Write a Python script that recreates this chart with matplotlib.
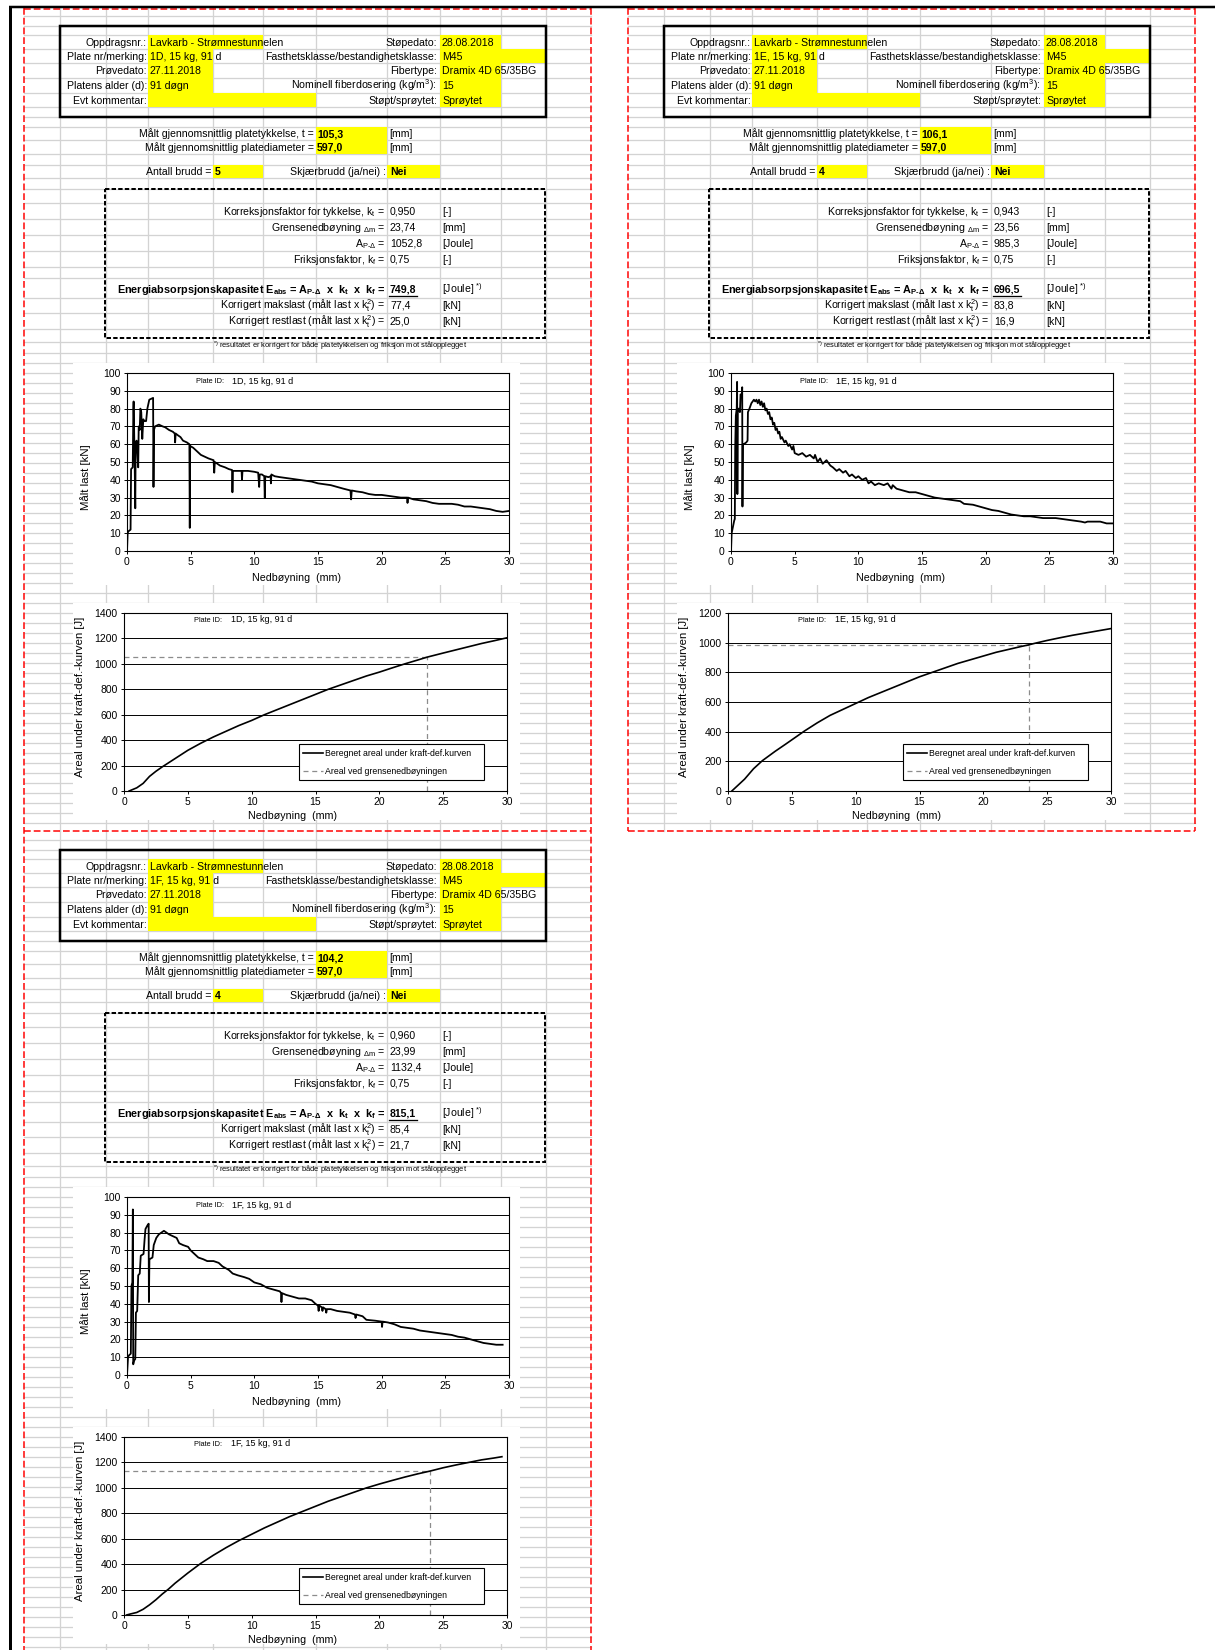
import matplotlib
matplotlib.use('Agg')
import matplotlib.pyplot as plt
from matplotlib.patches import Rectangle

plt.rcParams['font.family'] = ['Liberation Sans', 'DejaVu Sans']
plt.rcParams['mathtext.fontset'] = 'custom'
plt.rcParams['mathtext.rm'] = 'Liberation Sans'
plt.rcParams['mathtext.it'] = 'Liberation Sans:italic'
plt.rcParams['mathtext.bf'] = 'Liberation Sans:bold'
plt.rcParams['mathtext.default'] = 'regular'

# ---- data read from the sheet ----
plate_ids = ['1D, 15 kg, 91 d', '1E, 15 kg, 91 d', '1F, 15 kg, 91 d']
thickness = ['105,3', '106,1', '104,2']
diameter = ['597,0', '597,0', '597,0']
antall_brudd = ['5', '4', '4']
skjaerbrudd = ['Nei', 'Nei', 'Nei']
kt_values = ['0,950', '0,943', '0,960']
delta_m = [23.74, 23.56, 23.99]
area_pd = [1052.8, 985.3, 1132.4]
kf_values = ['0,75', '0,75', '0,75']
eabs = ['749,8', '696,5', '815,1']
makslast = ['77,4', '83,8', '85,4']
restlast = ['25,0', '16,9', '21,7']
energy_ymax = [1400, 1200, 1400]

hdr_left_labels = ['Oppdragsnr.:', 'Plate nr/merking:', 'Prøvedato:', 'Platens alder (d):', 'Evt kommentar:']
hdr_right_labels = ['Støpedato:', 'Fasthetsklasse/bestandighetsklasse:', 'Fibertype:',
                    'Nominell fiberdosering (kg/m$^{3}$):', 'Støpt/sprøytet:']
hdr_right_values = ['28.08.2018', 'M45', 'Dramix 4D 65/35BG', '15', 'Sprøytet']
oppdrag = 'Lavkarb - Strømnestunnelen'
provedato = '27.11.2018'
alder = '91 døgn'

load_1d = [(0, 0), (0.05, 10), (0.1, 11), (0.28, 12), (0.32, 46), (0.45, 47), (0.5, 80), (0.52, 84),
           (0.55, 72), (0.6, 50), (0.65, 24), (0.68, 60), (0.75, 62), (0.82, 55), (0.88, 47), (0.92, 70),
           (1.0, 68), (1.05, 80), (1.12, 78), (1.2, 63), (1.28, 74), (1.35, 73), (1.5, 73), (1.6, 80),
           (1.75, 85), (2.05, 86), (2.08, 36), (2.12, 68), (2.2, 70), (2.5, 71), (2.8, 70), (3.0, 69.5),
           (3.3, 68), (3.6, 67), (3.75, 66), (3.78, 61), (3.82, 66), (4.0, 65), (4.2, 64), (4.4, 62),
           (4.7, 61), (4.9, 60), (4.93, 13), (4.96, 59), (5.2, 58), (5.5, 56), (5.8, 54), (6.1, 53),
           (6.4, 52), (6.8, 51), (6.85, 44), (6.9, 50), (7.3, 48), (7.7, 47), (8.0, 46), (8.25, 45.5),
           (8.28, 33), (8.32, 45), (8.7, 45), (9.0, 45), (9.03, 40), (9.07, 45), (9.5, 45), (10.0, 44.5),
           (10.3, 44), (10.38, 36), (10.42, 43), (10.6, 43), (10.78, 42), (10.82, 30), (10.86, 42),
           (11.1, 41.5), (11.28, 42), (11.3, 38), (11.34, 43), (11.6, 42), (12.0, 41.5), (12.5, 41),
           (13.0, 40.5), (13.5, 40), (14.0, 39.5), (14.5, 39), (15.0, 38), (15.5, 37.5), (16.0, 37),
           (16.5, 36), (17.0, 35), (17.55, 34), (17.6, 29), (17.65, 34), (18.0, 33.5), (18.5, 33),
           (19.0, 32), (19.5, 31.5), (20.0, 31.5), (20.5, 31), (21.0, 30.5), (21.5, 30), (22.0, 30),
           (22.03, 27), (22.07, 30), (22.5, 29), (23.0, 28.5), (23.5, 28), (24.0, 27), (24.5, 26.5),
           (25.0, 26.5), (25.5, 26.5), (26.0, 26), (26.5, 25), (27.0, 25), (27.5, 24.5), (28.0, 24),
           (28.5, 23.5), (29.0, 22.5), (29.5, 22), (30.0, 22.5)]

load_1e = [(0, 0), (0.05, 10), (0.25, 17), (0.3, 18), (0.33, 58), (0.38, 76), (0.45, 80), (0.48, 95),
           (0.5, 32), (0.53, 78), (0.6, 80), (0.7, 78), (0.75, 88), (0.85, 88), (0.88, 92), (0.9, 25),
           (0.93, 60), (1.0, 60), (1.2, 61), (1.3, 62), (1.33, 78), (1.45, 80), (1.6, 83), (1.8, 85),
           (1.9, 84), (2.0, 85), (2.1, 83), (2.2, 85), (2.3, 82), (2.4, 84), (2.5, 81), (2.6, 83),
           (2.7, 79), (2.8, 80), (2.9, 77), (3.0, 78), (3.1, 74), (3.2, 75), (3.3, 71), (3.4, 72),
           (3.5, 68), (3.6, 69), (3.7, 66), (3.8, 67), (3.9, 63), (4.0, 64), (4.2, 61), (4.3, 62),
           (4.5, 59), (4.6, 60), (4.8, 57), (4.9, 59), (5.0, 55), (5.3, 54), (5.6, 55), (5.9, 53),
           (6.2, 54), (6.5, 52), (6.6, 54), (6.8, 50), (7.0, 52), (7.2, 49), (7.5, 51), (7.8, 48),
           (8.0, 47), (8.3, 45), (8.5, 46), (8.8, 44), (9.0, 45), (9.3, 42), (9.5, 43), (9.8, 41),
           (10.0, 42), (10.3, 40), (10.6, 41), (10.8, 38), (11.0, 39), (11.3, 37), (11.6, 38),
           (12.0, 37), (12.3, 38), (12.6, 35), (12.7, 37), (13.0, 35), (13.5, 34), (14.0, 33),
           (14.5, 33), (15.0, 32), (15.5, 31), (16.0, 30), (16.5, 29.5), (17.0, 29), (17.5, 28.5),
           (18.0, 28), (18.3, 26.5), (19.0, 26), (19.5, 25), (20.0, 24), (20.5, 23), (21.0, 22.5),
           (21.5, 21.5), (22.0, 20.5), (22.5, 20), (23.0, 19.5), (23.5, 19.5), (24.0, 19), (24.5, 18.5),
           (25.0, 18.5), (25.5, 18.5), (26.0, 18), (26.5, 17.5), (27.0, 17), (27.5, 16.5), (27.8, 16),
           (28.0, 16.5), (28.5, 16.5), (29.0, 16.5), (29.5, 15.5), (30.0, 15.5)]

load_1f = [(0, 0), (0.08, 10), (0.15, 11), (0.3, 12), (0.35, 50), (0.42, 52), (0.46, 93), (0.49, 6),
           (0.55, 8), (0.65, 9), (0.7, 35), (0.8, 36), (0.88, 56), (1.0, 57), (1.08, 67), (1.3, 68),
           (1.38, 76), (1.45, 82), (1.6, 84), (1.7, 85), (1.72, 41), (1.76, 65), (2.0, 66), (2.1, 73),
           (2.3, 77), (2.5, 79), (2.7, 80), (2.9, 81), (3.1, 80), (3.3, 79), (3.6, 78), (3.9, 77),
           (4.1, 74), (4.4, 73), (4.8, 72), (5.0, 70), (5.3, 68), (5.6, 66), (6.0, 65), (6.3, 64),
           (6.8, 64), (7.2, 63), (7.5, 61), (8.0, 59), (8.3, 57), (8.7, 56), (9.2, 55), (9.6, 54),
           (10.0, 52), (10.5, 51), (11.0, 49), (11.5, 48), (12.0, 47), (12.1, 46), (12.13, 41),
           (12.17, 46), (12.5, 45), (13.0, 44), (13.5, 43), (14.0, 43), (14.5, 42), (14.8, 40),
           (15.0, 39), (15.05, 36), (15.1, 39), (15.3, 38), (15.35, 36), (15.4, 38), (15.6, 37),
           (15.65, 35), (15.7, 37), (16.0, 37), (16.5, 36), (17.0, 35.5), (17.5, 35), (17.9, 34),
           (17.95, 32), (18.0, 34), (18.5, 33), (18.8, 31), (19.5, 30.5), (20.0, 30), (20.03, 27),
           (20.07, 30), (20.5, 29.5), (21.0, 28.5), (21.5, 27), (22.0, 26.5), (22.5, 26), (23.0, 25),
           (23.5, 24.5), (24.0, 24), (24.5, 23.5), (25.0, 23), (25.5, 22.5), (26.0, 21.5), (26.5, 21),
           (27.0, 20), (27.5, 19), (28.0, 18), (28.5, 17.5), (29.0, 17), (29.5, 17)]

energy_1d = [(0.4, 0), (1, 25), (1.5, 60), (2, 115), (2.5, 155), (3, 190), (4, 255), (5, 320), (6, 375),
             (7, 425), (8, 470), (9, 515), (10, 555), (11, 600), (12, 640), (13, 680), (14, 720),
             (15, 760), (16, 800), (17, 835), (18, 870), (19, 905), (20, 935), (21, 968), (22, 1000),
             (23, 1030), (23.74, 1052.8), (25, 1085), (26, 1110), (27, 1135), (28, 1160), (29, 1182),
             (30, 1205)]
energy_1e = [(0.3, 0), (0.8, 40), (1.3, 80), (2, 150), (2.7, 205), (3.7, 268), (4.5, 315), (5, 345),
             (6, 405), (7, 460), (8, 510), (9, 550), (10, 590), (11, 630), (12, 665), (13, 700),
             (14, 735), (15, 770), (16, 800), (17, 830), (18, 860), (19, 885), (20, 910), (21, 935),
             (22, 955), (23, 975), (23.56, 985.3), (24, 995), (25, 1015), (26, 1033), (27, 1050),
             (28, 1065), (29, 1080), (30, 1095)]
energy_1f = [(0.2, 0), (0.5, 8), (1, 20), (1.5, 45), (2, 80), (2.5, 120), (3, 165), (3.5, 205),
             (4, 250), (5, 330), (6, 405), (7, 470), (8, 530), (9, 585), (10, 635), (11, 685),
             (12, 730), (13, 775), (14, 815), (15, 855), (16, 895), (17, 930), (18, 965), (19, 1000),
             (20, 1030), (21, 1058), (22, 1085), (23, 1110), (23.99, 1132.4), (25, 1158), (26, 1180),
             (27, 1200), (28, 1220), (29, 1235), (29.6, 1245)]

loads = [load_1d, load_1e, load_1f]
energies = [energy_1d, energy_1e, energy_1f]

# ---- page layout (pixels, relative to a page) ----
W, H = 1215, 1650
FS = 7.6
GRID_C = '#d3d3d3'
GRID_COLS = [60, 106, 148, 213, 263, 316, 387, 440, 501, 546]
GRID_ROWS = [16, 26, 35, 49, 63, 78, 93, 107, 117, 127, 140, 154, 165, 178, 189, 203, 219, 235,
             251, 267, 278, 298, 313, 329, 342, 353] + list(range(363, 831, 10))
YELLOW = [(148, 263, 35, 49), (148, 213, 49, 63), (148, 213, 63, 78), (148, 213, 78, 93),
          (148, 316, 93, 107), (440, 501, 35, 49), (440, 546, 49, 63), (440, 501, 63, 78),
          (440, 501, 78, 93), (440, 501, 93, 107), (316, 387, 127, 154), (213, 263, 165, 178),
          (387, 440, 165, 178)]
PAGES = [(0, 0), (604, 0), (0, 824)]

fig = plt.figure(figsize=(12.15, 16.5), dpi=100)
bg = fig.add_axes([0, 0, 1, 1])
bg.set_xlim(0, W)
bg.set_ylim(H, 0)
bg.axis('off')


def px(v):
    return v * 0.72


def axrect(L, T, R, B):
    return [L / W, 1 - B / H, (R - L) / W, (B - T) / H]


def txt(x, y, s, fs=FS, **kw):
    # y is the visual centre of the row; place by baseline
    bg.text(x, y + 0.36 * fs * 100 / 72, s, fontsize=fs, va='baseline', zorder=6, **kw)


def style_axes(ax):
    ax.set_facecolor('white')
    ax.grid(axis='y', color='black', lw=0.7)
    ax.set_axisbelow(True)
    for s in ax.spines.values():
        s.set_linewidth(0.8)
    ax.tick_params(labelsize=7.5, length=2.5, width=0.7, pad=2, direction='out')


def plate_label(ax, x_lab, x_val, y, i):
    ax.text(x_lab, y + 2, 'Plate ID:', fontsize=5.3, va='baseline', ha='left',
            transform=bg.transData, zorder=5)
    ax.text(x_val, y + 2.5, plate_ids[i], fontsize=6.5, va='baseline', ha='left',
            transform=bg.transData, zorder=5)


def draw_page(i, ox, oy):
    top, bottom = oy + 7, min(oy + 831, H)
    for r in GRID_ROWS:
        if oy + r > H:
            break
        bg.plot([ox + 24, ox + 591], [oy + r, oy + r], color=GRID_C, lw=px(1.3), zorder=1)
    for c in GRID_COLS:
        bg.plot([ox + c, ox + c], [top, bottom], color=GRID_C, lw=px(1.3), zorder=1)
    for x0, x1, y0, y1 in YELLOW:
        bg.add_patch(Rectangle((ox + x0, oy + y0), x1 - x0, y1 - y0, fc='#ffff00', ec='none', zorder=2))

    # boxes
    bg.add_patch(Rectangle((ox + 60, oy + 26), 486, 91, fill=False, ec='black', lw=px(2.5), zorder=5))
    bg.add_patch(Rectangle((ox + 105, oy + 189), 440, 149, fill=False, ec='black', lw=px(2.0),
                           ls=(0, (2.2, 1.1)), zorder=5))

    # header
    rows = [42, 56, 70.5, 85.5, 100]
    left_vals = [oppdrag, plate_ids[i], provedato, alder, '']
    for y, lab, val, rlab, rval in zip(rows, hdr_left_labels, left_vals, hdr_right_labels, hdr_right_values):
        txt(ox + 147, oy + y, lab, ha='right')
        txt(ox + 150, oy + y, val, ha='left')
        txt(ox + 437, oy + y, rlab, ha='right')
        txt(ox + 442, oy + y, rval, ha='left')

    txt(ox + 314, oy + 133.5, 'Målt gjennomsnittlig platetykkelse, t =', ha='right')
    txt(ox + 317, oy + 133.5, thickness[i], ha='left', fontweight='bold')
    txt(ox + 389, oy + 133.5, '[mm]', ha='left')
    txt(ox + 314, oy + 147, 'Målt gjennomsnittlig platediameter =', ha='right')
    txt(ox + 317, oy + 147, diameter[i], ha='left', fontweight='bold')
    txt(ox + 389, oy + 147, '[mm]', ha='left')
    txt(ox + 211, oy + 171.5, 'Antall brudd =', ha='right')
    txt(ox + 215, oy + 171.5, antall_brudd[i], ha='left', fontweight='bold')
    txt(ox + 386, oy + 171.5, 'Skjærbrudd (ja/nei) :', ha='right')
    txt(ox + 390, oy + 171.5, skjaerbrudd[i], ha='left', fontweight='bold')

    # results block
    res = [(211, 'Korreksjonsfaktor for tykkelse, k$_{t}$ =', kt_values[i], '[-]'),
           (227, 'Grensenedbøyning $_{\u0394m}$ =', f'{delta_m[i]:.2f}'.replace('.', ','), '[mm]'),
           (243, 'A$_{P\u2010\u0394}$ =', f'{area_pd[i]:.1f}'.replace('.', ','), '[Joule]'),
           (259, 'Friksjonsfaktor, k$_{f}$ =', kf_values[i], '[-]'),
           (305, 'Korrigert makslast (målt last x k$_{t}^{2}$) =', makslast[i], '[kN]'),
           (321, 'Korrigert restlast (målt last x k$_{t}^{2}$) =', restlast[i], '[kN]')]
    for y, lab, val, unit in res:
        txt(ox + 385, oy + y, lab, ha='right')
        txt(ox + 390, oy + y, val, ha='left')
        txt(ox + 442, oy + y, unit, ha='left')
    txt(ox + 385, oy + 289, 'Energiabsorpsjonskapasitet E$_{abs}$ = A$_{P\u2010\u0394}$  x  k$_{t}$  x  k$_{f}$ =',
        fs=7.8, ha='right', fontweight='bold')
    txt(ox + 390, oy + 289, eabs[i], ha='left', fontweight='bold')
    bg.plot([ox + 389, ox + 417], [oy + 295.5, oy + 295.5], color='black', lw=px(1.3), zorder=6)
    txt(ox + 442, oy + 289, '[Joule] $^{*)}$', ha='left')
    txt(ox + 213, oy + 346, '$^{*)}$ resultatet er korrigert for både platetykkelsen og friksjon mot stålopplegget',
        fs=5.4, ha='left')

    # chart backgrounds
    bg.add_patch(Rectangle((ox + 73, oy + 363), 447, 222, fc='white', ec='none', zorder=3))
    bg.add_patch(Rectangle((ox + 73, oy + 603), 447, 217, fc='white', ec='none', zorder=3))

    # load chart
    ax = fig.add_axes(axrect(ox + 127, oy + 373, ox + 509, oy + 551))
    ax.set_zorder(2)
    xs, ys = zip(*loads[i])
    ax.plot(xs, ys, color='black', lw=1.3, zorder=3)
    ax.set_xlim(0, 30)
    ax.set_ylim(0, 100)
    ax.set_xticks(range(0, 31, 5))
    ax.set_yticks(range(0, 101, 10))
    style_axes(ax)
    txt(ox + 297, oy + 577, 'Nedbøyning  (mm)', fs=7.7, ha='center')
    bg.text(ox + 86, oy + 477, 'Målt last [kN]', fontsize=8.2, rotation=90, ha='center', va='center', zorder=6)
    plate_label(ax, ox + 196, ox + 232, oy + 381, i)

    # energy chart
    ax2 = fig.add_axes(axrect(ox + 124, oy + 613, ox + 507, oy + 791))
    ax2.set_zorder(2)
    ex, ey = zip(*energies[i])
    ax2.plot(ex, ey, color='black', lw=1.2, zorder=3, label='Beregnet areal under kraft-def.kurven')
    ax2.plot([0, delta_m[i]], [area_pd[i], area_pd[i]], color='#8c8c8c', lw=0.9, ls=(0, (4, 3)),
             zorder=2, label='Areal ved grensenedbøyningen')
    ax2.plot([delta_m[i], delta_m[i]], [0, area_pd[i]], color='#8c8c8c', lw=0.9, ls=(0, (4, 3)), zorder=2)
    ax2.set_xlim(0, 30)
    ax2.set_ylim(0, energy_ymax[i])
    ax2.set_xticks(range(0, 31, 5))
    ax2.set_yticks(range(0, energy_ymax[i] + 1, 200))
    style_axes(ax2)
    leg = ax2.legend(loc='lower left', bbox_to_anchor=(0.457, 0.062, 0.483, 0.208), mode='expand',
                     fontsize=6.3, frameon=True, fancybox=False, edgecolor='black', framealpha=1,
                     handlelength=2.2, handletextpad=0.3, labelspacing=1.0, borderpad=0.5,
                     borderaxespad=0)
    leg.get_frame().set_linewidth(0.8)
    txt(ox + 293, oy + 815, 'Nedbøyning  (mm)', fs=7.7, ha='center')
    bg.text(ox + 80, oy + 697, 'Areal under kraft-def.-kurven [J]', fontsize=8.2, rotation=90,
            ha='center', va='center', zorder=6)
    plate_label(ax2, ox + 194, ox + 231, oy + 620, i)


for i, (ox, oy) in enumerate(PAGES):
    draw_page(i, ox, oy)

# page borders
RED = dict(color='red', lw=px(1.5), ls=(0, (4.5, 2)), zorder=7)
bg.plot([24, 24], [8, H], **RED)
bg.plot([591, 591], [8, H], **RED)
bg.plot([24, 591], [831, 831], **RED)
bg.plot([24, 591], [8.5, 8.5], **RED)
bg.plot([628, 628], [8, 831], **RED)
bg.plot([1195, 1195], [8, 831], **RED)
bg.plot([628, 1195], [831, 831], **RED)
bg.plot([628, 1195], [8.5, 8.5], **RED)
bg.plot([10, 10], [6, H], color='black', lw=px(3), zorder=8, solid_capstyle='butt')
bg.plot([9, W], [6.5, 6.5], color='black', lw=px(2.5), zorder=8, solid_capstyle='butt')

fig.savefig('out.png', dpi=100)
